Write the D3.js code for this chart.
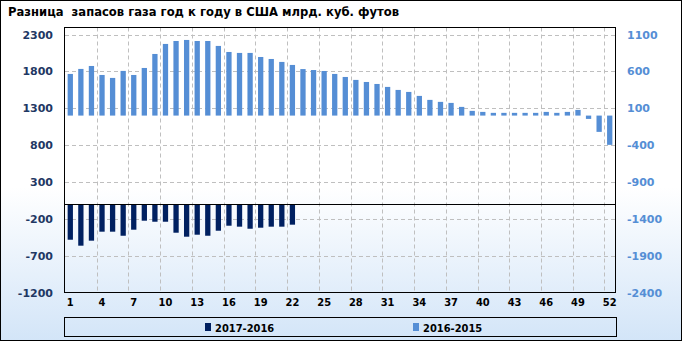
<!DOCTYPE html>
<html>
<head>
<meta charset="utf-8">
<script src="https://cdn.jsdelivr.net/npm/d3@7"></script>
<style>
  body { margin: 0; background: #fff; }
  svg { display: block; font-family: "DejaVu Sans", Verdana, sans-serif; }
</style>
</head>
<body>
<div id="chart"></div>
<script>
// weeks of the year
const weeks = d3.range(1, 53);
const xTickWeeks = [1, 4, 7, 10, 13, 16, 19, 22, 25, 28, 31, 34, 37, 40, 43, 46, 49, 52];

// 2017-2016, left axis (only 22 weeks reported)
const diff2017 = [-484, -565, -497, -375, -375, -430, -348, -226, -240, -240, -389,
  -443, -416, -430, -362, -294, -307, -335, -321, -307, -307, -280];

// 2016-2015, right axis
const diff2016 = [565, 633, 673, 551, 511, 606, 551, 646, 836, 972, 1012, 1026, 1012,
  1012, 945, 863, 850, 850, 795, 768, 728, 687, 631, 618, 605, 565, 524, 484, 456,
  429, 389, 348, 321, 267, 213, 186, 172, 118, 64, 50, 37, 37, 37, 37, 37, 50, 37,
  50, 77, -45, -221, -397];

const leftTicks = [-1200, -700, -200, 300, 800, 1300, 1800, 2300];
const rightTicks = [-2400, -1900, -1400, -900, -400, 100, 600, 1100];

const title = 'Разница  запасов газа год к году в США млрд. куб. футов';
const seriesNames = ['2017-2016', '2016-2015'];
const colors = ['#002060', '#558ed5'];

const W = 682, H = 341;
const plot = { left: 65, right: 615, top: 27.5, bottom: 292.5 };
const fmt = d => String(d);

const svg = d3.select('#chart')
  .append('svg')
  .attr('width', W)
  .attr('height', H);

// background gradient
const grad = svg.append('defs').append('linearGradient')
  .attr('id', 'bg')
  .attr('x1', 0).attr('y1', 0).attr('x2', 0).attr('y2', 1);
grad.append('stop').attr('offset', '0%').attr('stop-color', '#ffffff');
grad.append('stop').attr('offset', '55%').attr('stop-color', '#ffffff');
grad.append('stop').attr('offset', '100%').attr('stop-color', '#d3e5f8');

svg.append('rect')
  .attr('x', 0.5).attr('y', 0.5)
  .attr('width', W - 1).attr('height', H - 1)
  .attr('fill', 'url(#bg)')
  .attr('stroke', '#000');

svg.append('text')
  .attr('x', 8).attr('y', 16)
  .attr('font-size', 12)
  .attr('font-weight', 'bold')
  .attr('fill', '#000')
  .attr('textLength', 391)
  .attr('lengthAdjust', 'spacingAndGlyphs')
  .style('white-space', 'pre')
  .text(title);

const x = d3.scaleBand()
  .domain(weeks)
  .range([plot.left, plot.right])
  .paddingInner(0.5)
  .paddingOuter(0.25);
const step = x.step();

const yL = d3.scaleLinear().domain([-1200, 2395]).range([plot.bottom, plot.top]);
const yR = d3.scaleLinear().domain([-2400, 1195]).range([plot.bottom, plot.top]);

// grid
const grid = svg.append('g')
  .attr('stroke', '#bfbfbf')
  .attr('stroke-dasharray', '4,3');

grid.selectAll('line.h')
  .data(leftTicks.slice(1))
  .enter().append('line')
  .attr('x1', plot.left).attr('x2', plot.right)
  .attr('y1', d => Math.round(yL(d)) + 0.5)
  .attr('y2', d => Math.round(yL(d)) + 0.5);

grid.selectAll('line.v')
  .data(d3.range(3, 52, 3))
  .enter().append('line')
  .attr('y1', plot.top).attr('y2', plot.bottom)
  .attr('x1', d => Math.round(plot.left + d * step) + 0.5)
  .attr('x2', d => Math.round(plot.left + d * step) + 0.5);

// 2016-2015 bars
svg.append('g')
  .selectAll('rect')
  .data(diff2016)
  .enter().append('rect')
  .attr('x', (d, i) => x(weeks[i]))
  .attr('width', x.bandwidth())
  .attr('y', d => yR(Math.max(0, d)))
  .attr('height', d => Math.abs(yR(d) - yR(0)))
  .attr('fill', colors[1]);

// 2017-2016 bars
svg.append('g')
  .selectAll('rect')
  .data(diff2017)
  .enter().append('rect')
  .attr('x', (d, i) => x(weeks[i]))
  .attr('width', x.bandwidth())
  .attr('y', d => yL(Math.max(0, d)))
  .attr('height', d => Math.abs(yL(d) - yL(0)))
  .attr('fill', colors[0]);

// zero line of left axis
svg.append('line')
  .attr('x1', plot.left).attr('x2', plot.right)
  .attr('y1', Math.round(yL(0)) + 0.5).attr('y2', Math.round(yL(0)) + 0.5)
  .attr('stroke', '#000');

// plot frame
svg.append('rect')
  .attr('x', plot.left - 0.5).attr('y', plot.top)
  .attr('width', plot.right - plot.left + 1)
  .attr('height', plot.bottom - plot.top)
  .attr('fill', 'none')
  .attr('stroke', '#000');

// axes
const leftAxis = svg.append('g')
  .attr('transform', `translate(${plot.left - 12},0)`)
  .call(d3.axisLeft(yL).tickValues(leftTicks).tickFormat(fmt).tickSize(0).tickPadding(0));
leftAxis.select('.domain').remove();
leftAxis.selectAll('text')
  .attr('font-family', '"DejaVu Sans", Verdana, sans-serif')
  .attr('font-size', 11)
  .attr('font-weight', 'bold')
  .attr('fill', '#1f3864');

const rightAxis = svg.append('g')
  .attr('transform', `translate(${plot.right + 12},0)`)
  .call(d3.axisRight(yR).tickValues(rightTicks).tickFormat(fmt).tickSize(0).tickPadding(0));
rightAxis.select('.domain').remove();
rightAxis.selectAll('text')
  .attr('font-family', '"DejaVu Sans", Verdana, sans-serif')
  .attr('font-size', 11)
  .attr('font-weight', 'bold')
  .attr('fill', '#558ed5');

const bottomAxis = svg.append('g')
  .attr('transform', `translate(0,${plot.bottom + 6})`)
  .call(d3.axisBottom(x).tickValues(xTickWeeks).tickFormat(fmt).tickSize(0).tickPadding(0));
bottomAxis.select('.domain').remove();
bottomAxis.selectAll('text')
  .attr('font-family', '"DejaVu Sans Condensed", "DejaVu Sans", sans-serif')
  .attr('font-size', 11)
  .attr('font-weight', 'bold')
  .attr('fill', '#000');

// legend
const legend = svg.append('g');
legend.append('rect')
  .attr('x', 64.5).attr('y', 317.5)
  .attr('width', 552).attr('height', 19)
  .attr('fill', 'none')
  .attr('stroke', '#000');

const legendX = [205, 413];
seriesNames.forEach((name, i) => {
  legend.append('rect')
    .attr('x', legendX[i]).attr('y', 323)
    .attr('width', 6).attr('height', 8)
    .attr('fill', colors[i]);
  legend.append('text')
    .attr('x', legendX[i] + 10).attr('y', 331.5)
    .attr('font-family', '"DejaVu Sans Condensed", "DejaVu Sans", sans-serif')
    .attr('font-size', 11)
    .attr('font-weight', 'bold')
    .attr('fill', '#000')
    .text(name);
});
</script>
</body>
</html>
